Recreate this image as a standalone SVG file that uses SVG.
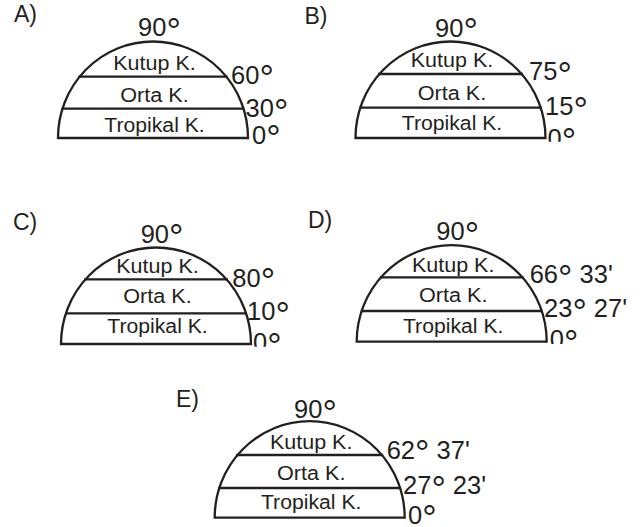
<svg xmlns="http://www.w3.org/2000/svg" width="643" height="527" viewBox="0 0 643 527">
<style>
.dome{fill:none;stroke:#231f20;stroke-width:2.3}
.ln{stroke:#231f20;stroke-width:2.3}
.z{font-family:"Liberation Sans",Arial,sans-serif;font-size:20px;text-anchor:middle;fill:#231f20}
.d{font-family:"Liberation Sans",Arial,sans-serif;font-size:25.5px;fill:#231f20}
.g{font-size:36px}
.l{font-family:"Liberation Sans",Arial,sans-serif;font-size:23px;fill:#231f20}
</style>
<defs>
<clipPath id="cB"><rect x="530" y="100" width="80" height="41.7"/></clipPath>
<clipPath id="cC"><rect x="230" y="300" width="80" height="46.7"/></clipPath>
<clipPath id="cD"><rect x="530" y="300" width="80" height="44"/></clipPath>
</defs>
<rect width="643" height="527" fill="#fff"/>

<g id="panelA">
<text class="l" x="14" y="22">A)</text>
<path class="dome" d="M58,138 A95,96.5 0 0 1 248,138 Z"/>
<path class="ln" d="M78.5,76.7 H227.5 M61.5,108.7 H244.5"/>
<text class="z" x="154.5" y="70" textLength="82.5" lengthAdjust="spacingAndGlyphs">Kutup K.</text>
<text class="z" x="154.5" y="101.7" textLength="68.5" lengthAdjust="spacingAndGlyphs">Orta K.</text>
<text class="z" x="154.5" y="131.7" textLength="100.5" lengthAdjust="spacingAndGlyphs">Tropikal K.</text>
<text class="d" x="138" y="36">90<tspan class="g" dy="7.5">°</tspan></text>
<text class="d" x="231" y="83.5">60<tspan class="g" dy="7.5">°</tspan></text>
<text class="d" x="245.5" y="117">30<tspan class="g" dy="7.5">°</tspan></text>
<text class="d" x="252" y="143.5">0<tspan class="g" dy="7.5">°</tspan></text>
</g>

<g id="panelB">
<text class="l" x="304.5" y="23.5">B)</text>
<path class="dome" d="M355.5,138 A95,96.5 0 0 1 545.5,138 Z"/>
<path class="ln" d="M378,74 H523 M359.2,107.7 H541.8"/>
<text class="z" x="452" y="66.7" textLength="82.5" lengthAdjust="spacingAndGlyphs">Kutup K.</text>
<text class="z" x="452" y="100" textLength="68.5" lengthAdjust="spacingAndGlyphs">Orta K.</text>
<text class="z" x="452" y="130" textLength="100.5" lengthAdjust="spacingAndGlyphs">Tropikal K.</text>
<text class="d" x="435" y="36.5">90<tspan class="g" dy="7.5">°</tspan></text>
<text class="d" x="529" y="80">75<tspan class="g" dy="7.5">°</tspan></text>
<text class="d" x="545" y="115">15<tspan class="g" dy="7.5">°</tspan></text>
<text class="d" x="547.5" y="146.5" clip-path="url(#cB)">0<tspan class="g" dy="7.5">°</tspan></text>
</g>

<g id="panelC">
<text class="l" x="13" y="230">C)</text>
<path class="dome" d="M61,344 A95,96.5 0 0 1 251,344 Z"/>
<path class="ln" d="M84,279.3 H228 M65,313.3 H247"/>
<text class="z" x="157.5" y="273.3" textLength="82.5" lengthAdjust="spacingAndGlyphs">Kutup K.</text>
<text class="z" x="157.5" y="303.3" textLength="68.5" lengthAdjust="spacingAndGlyphs">Orta K.</text>
<text class="z" x="157.5" y="333.3" textLength="100.5" lengthAdjust="spacingAndGlyphs">Tropikal K.</text>
<text class="d" x="140.7" y="242.5">90<tspan class="g" dy="7.5">°</tspan></text>
<text class="d" x="232.3" y="286.7">80<tspan class="g" dy="7.5">°</tspan></text>
<text class="d" x="247" y="320">10<tspan class="g" dy="7.5">°</tspan></text>
<text class="d" x="253" y="351" clip-path="url(#cC)">0<tspan class="g" dy="7.5">°</tspan></text>
</g>

<g id="panelD">
<text class="l" x="308" y="228">D)</text>
<path class="dome" d="M356.7,341.7 A95,96.5 0 0 1 546.7,341.7 Z"/>
<path class="ln" d="M379.7,277.3 H523.7 M360.7,311 H542.7"/>
<text class="z" x="453.2" y="271.7" textLength="82.5" lengthAdjust="spacingAndGlyphs">Kutup K.</text>
<text class="z" x="453.2" y="301.7" textLength="68.5" lengthAdjust="spacingAndGlyphs">Orta K.</text>
<text class="z" x="453.2" y="332.7" textLength="100.5" lengthAdjust="spacingAndGlyphs">Tropikal K.</text>
<text class="d" x="436.3" y="240">90<tspan class="g" dy="7.5">°</tspan></text>
<text class="d" x="529.7" y="283.3">66<tspan class="g" dy="7.5">°</tspan><tspan dy="-7.5"> 33'</tspan></text>
<text class="d" x="544" y="317.3">23<tspan class="g" dy="7.5">°</tspan><tspan dy="-7.5"> 27'</tspan></text>
<text class="d" x="549.7" y="348.3" clip-path="url(#cD)">0<tspan class="g" dy="7.5">°</tspan></text>
</g>

<g id="panelE">
<text class="l" x="176" y="406.5">E)</text>
<path class="dome" d="M214.7,517.7 A95,96.5 0 0 1 404.7,517.7 Z"/>
<path class="ln" d="M236.2,455 H383.2 M218.3,488 H401.1"/>
<text class="z" x="311.2" y="449.3" textLength="82.5" lengthAdjust="spacingAndGlyphs">Kutup K.</text>
<text class="z" x="311.2" y="480" textLength="68.5" lengthAdjust="spacingAndGlyphs">Orta K.</text>
<text class="z" x="311.2" y="509.3" textLength="100.5" lengthAdjust="spacingAndGlyphs">Tropikal K.</text>
<text class="d" x="294" y="418.3">90<tspan class="g" dy="7.5">°</tspan></text>
<text class="d" x="386.7" y="458.5">62<tspan class="g" dy="7.5">°</tspan><tspan dy="-7.5"> 37'</tspan></text>
<text class="d" x="403" y="494">27<tspan class="g" dy="7.5">°</tspan><tspan dy="-7.5"> 23'</tspan></text>
<text class="d" x="408" y="523.5">0<tspan class="g" dy="7.5">°</tspan></text>
</g>

<g id="connectors"/>
</svg>
